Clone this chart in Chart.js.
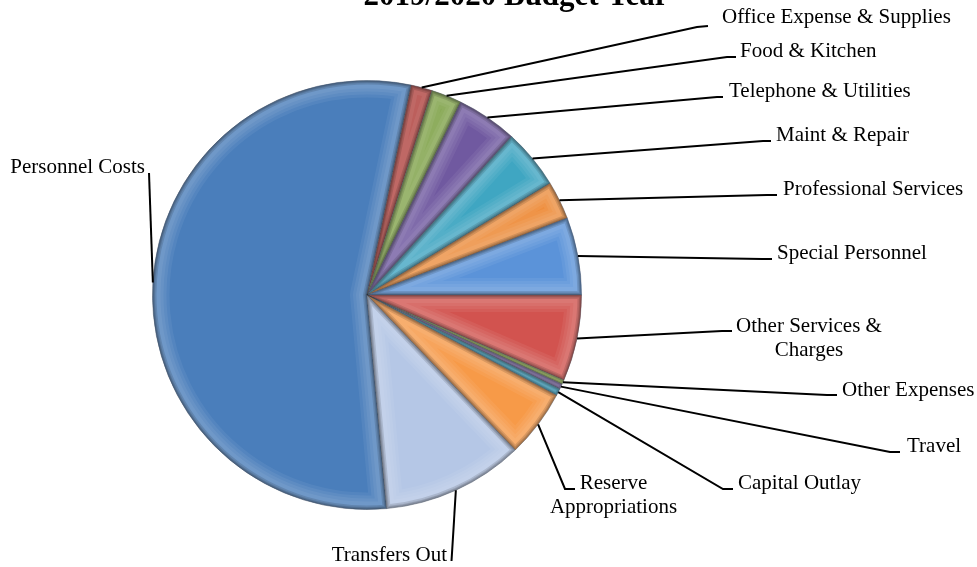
<!DOCTYPE html>
<html>
<head>
<meta charset="utf-8">
<title>2019/2020 Budget Year</title>
<script src="https://cdn.jsdelivr.net/npm/chart.js@4.4.1/dist/chart.umd.min.js"></script>
<style>
  html, body { margin: 0; padding: 0; background: #fff; }
  #wrap { width: 977px; height: 567px; position: relative; }
</style>
</head>
<body>
<div id="wrap"><canvas id="budget" width="977" height="567"></canvas></div>
<script>
'use strict';

// ─── Data ─────────────────────────────────────────────────────────────────────
const categories = [
  'Personnel Costs', 'Office Expense & Supplies', 'Food & Kitchen', 'Telephone & Utilities',
  'Maint & Repair', 'Professional Services', 'Special Personnel', 'Other Services & Charges',
  'Other Expenses', 'Travel', 'Capital Outlay', 'Reserve Appropriations', 'Transfers Out'
];
// share of the budget, percent
const shares = [54.75, 1.6, 2.29, 4.58, 4.5, 2.89, 5.83, 6.5, 0.33, 0.39, 0.53, 5.11, 10.68];
const sliceColors = [
  '#4a7ebb', '#b0403d', '#80a34a', '#7059a0', '#3fa6c2', '#ef8e3d', '#5b93d9',
  '#d2534f', '#9fc15c', '#8a74b5', '#42a8c8', '#f79a48', '#b5c7e6'
];
const title = '2019/2020 Budget Year';

// ─── Callout layout (label text lines, leader elbow, leader end, text anchor) ─
const FONT = "21px 'Times New Roman', 'Liberation Serif', serif";
const callouts = [
  {lines:['Personnel Costs'], elbow:[149,173], end:[149,173], at:[145,173], align:'right'},
  {lines:['Office Expense & Supplies'], elbow:[697,27], end:[708,26], at:[722,23], align:'left'},
  {lines:['Food & Kitchen'], elbow:[727,57], end:[736,57], at:[740,57], align:'left'},
  {lines:['Telephone & Utilities'], elbow:[717,97], end:[723,97], at:[729,97], align:'left'},
  {lines:['Maint & Repair'], elbow:[763,141], end:[771,141], at:[776,141], align:'left'},
  {lines:['Professional Services'], elbow:[767,195], end:[777,195], at:[783,195], align:'left'},
  {lines:['Special Personnel'], elbow:[762,259], end:[772,259], at:[777,258.5], align:'left'},
  {lines:['Other Services &', 'Charges'], elbow:[722,331], end:[732,331], at:[809,331.5], align:'center'},
  {lines:['Other Expenses'], elbow:[827,395], end:[837,395], at:[842,395.5], align:'left'},
  {lines:['Travel'], elbow:[890,452], end:[900,452], at:[907,452.3], align:'left'},
  {lines:['Capital Outlay'], elbow:[723,489], end:[733,489], at:[738,489.3], align:'left'},
  {lines:['Reserve', 'Appropriations'], elbow:[565,489], end:[575,489], at:[613.5,489.3], align:'center'},
  {lines:['Transfers Out'], elbow:[451.5,561], end:[451.5,561], at:[447,560.7], align:'right'}
];
const LINE_H = 24;

// soft bevel on each slice: a fading light band inside the edge and a dark rim
const bevel = {
  id: 'bevel',
  afterDatasetDraw(chart) {
    const ctx = chart.ctx;
    chart.getDatasetMeta(0).data.forEach(arc => {
      const {x, y, startAngle, endAngle, outerRadius} =
        arc.getProps(['x', 'y', 'startAngle', 'endAngle', 'outerRadius'], true);
      ctx.save();
      ctx.beginPath();
      ctx.moveTo(x, y);
      ctx.arc(x, y, outerRadius, startAngle, endAngle);
      ctx.closePath();
      ctx.clip();
      ctx.lineJoin = 'round';
      [34, 28, 22, 16].forEach(w => { ctx.lineWidth = w; ctx.strokeStyle = 'rgba(255,255,255,0.06)'; ctx.stroke(); });
      [8, 5, 3].forEach(w => { ctx.lineWidth = w; ctx.strokeStyle = 'rgba(0,0,0,0.12)'; ctx.stroke(); });
      ctx.restore();
    });
  }
};

// title and leader-line labels
const callout = {
  id: 'callout',
  afterDraw(chart) {
    const ctx = chart.ctx;
    ctx.save();
    ctx.fillStyle = '#000';
    ctx.font = "bold 31px 'Times New Roman', 'Liberation Serif', serif";
    ctx.textAlign = 'center';
    ctx.textBaseline = 'alphabetic';
    ctx.fillText(title, 516, 5);

    ctx.font = FONT;
    ctx.strokeStyle = '#000';
    ctx.lineWidth = 2;
    chart.getDatasetMeta(0).data.forEach((arc, i) => {
      const c = callouts[i];
      const {x, y, startAngle, endAngle, outerRadius} =
        arc.getProps(['x', 'y', 'startAngle', 'endAngle', 'outerRadius'], true);
      const mid = (startAngle + endAngle) / 2;
      ctx.beginPath();
      ctx.moveTo(x + Math.cos(mid) * outerRadius, y + Math.sin(mid) * outerRadius);
      ctx.lineTo(c.elbow[0], c.elbow[1]);
      ctx.lineTo(c.end[0], c.end[1]);
      ctx.stroke();
      ctx.textAlign = c.align;
      c.lines.forEach((t, k) => ctx.fillText(t, c.at[0], c.at[1] + k * LINE_H));
    });
    ctx.restore();
  }
};

new Chart(document.getElementById('budget'), {
  type: 'pie',
  data: {
    labels: categories,
    datasets: [{
      data: shares,
      backgroundColor: sliceColors,
      borderColor: 'rgba(40,50,70,0.4)',
      borderWidth: 1
    }]
  },
  options: {
    responsive: false,
    animation: false,
    rotation: 174.75,
    layout: {padding: {left: 152, right: 395, top: 80, bottom: 57}},
    plugins: {legend: {display: false}, tooltip: {enabled: false}, title: {display: false}}
  },
  plugins: [bevel, callout]
});
</script>
</body>
</html>
